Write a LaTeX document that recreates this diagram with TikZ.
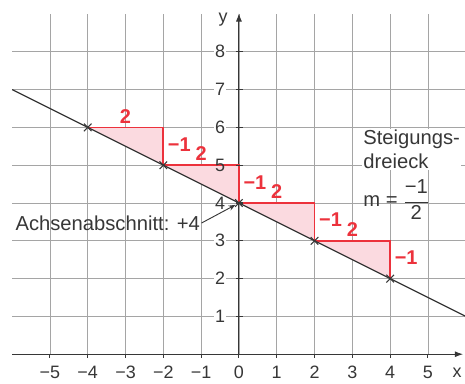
\documentclass[tikz,border=0pt]{standalone}
\usepackage{amsmath}
\usepackage{fontspec}
\setmainfont{Liberation Sans}
\usetikzlibrary{arrows.meta, positioning, calc}
\definecolor{gridgray}{RGB}{165,165,165}
\definecolor{axisgray}{RGB}{55,55,55}
\definecolor{stred}{RGB}{236,50,60}
\definecolor{stpink}{RGB}{251,218,224}

\begin{document}
\begin{tikzpicture}[
    gridline/.style={gridgray, line width=0.6pt},
    axisline/.style={axisgray, line width=0.8pt},
    steigline/.style={stred, line width=1.3pt},
    redlbl/.style={text=stred, font=\fontsize{15}{15}\selectfont\bfseries, inner sep=1pt},
    numlbl/.style={text=axisgray, font=\fontsize{13.5}{14}\selectfont, inner sep=1pt},
    txt/.style={text=axisgray, font=\fontsize{15.2}{17.5}\selectfont, align=left, inner sep=1pt}]
  \useasboundingbox (-6.32,-0.77) rectangle (5.98,9.37);
  % Grid
  \foreach \y in {1,...,8}
    \draw[gridline] (-6,\y) -- (6,\y);
  \foreach \x in {-5,...,5}
    \draw[gridline] (\x,0) -- (\x,9);
  % Points on the line y = -x/2 + 4
  \foreach \i/\x in {1/-4, 2/-2, 3/0, 4/2, 5/4}
    \coordinate (p\i) at (\x,{4-\x/2});
  % Slope triangles (fill)
  \foreach \x in {-4,-2,0,2}
    \fill[stpink] (\x,{4-\x/2}) -- (\x+2,{4-\x/2}) -- (\x+2,{3-\x/2}) -- cycle;
  % Axes
  \draw[axisline, -{Latex[length=2.2mm, width=1.6mm]}] (-6,0) -- (5.93,0);
  \draw[axisline, -{Latex[length=2.2mm, width=1.6mm]}] (0,0) -- (0,9.02);
  \node[numlbl] (xlbl) at (5.77,-0.48) {x};
  \node[numlbl] (ylbl) at (-0.42,8.84) {y};
  % Slope triangles (legs and labels)
  \foreach \x in {-4,-2,0,2}{
    \draw[steigline] (\x,{4-\x/2}) -- (\x+2,{4-\x/2}) -- (\x+2,{3-\x/2});
    \node[redlbl] at (\x+1,{4.3-\x/2}) {2};
    \node[redlbl, anchor=west] at (\x+2.08,{3.55-\x/2}) {−1};
  }
  % Tick marks
  \foreach \x/\lbl in {-5/−5, -4/−4, -3/−3, -2/−2, -1/−1, 0/0, 1/1, 2/2, 3/3, 4/4, 5/5}{
    \draw[axisline] (\x,0) -- (\x,-0.1);
    \node[numlbl, fill=white] at (\x,-0.48) {\lbl};
  }
  \foreach \y/\bg in {1/white, 2/white, 3/white, 4/none, 5/none, 6/white, 7/white, 8/white}{
    \draw[axisline] (-0.08,\y) -- (0.1,\y);
    \node[numlbl, fill=\bg] at (-0.5,\y) {\y};
  }
  % The line
  \draw[axisgray, line width=0.9pt] (-6,7) -- (6,1);
  \foreach \i in {1,...,5}
    \draw[axisgray, line width=0.8pt] ($(p\i)+(-0.1,-0.1)$) -- ($(p\i)+(0.1,0.1)$)
      ($(p\i)+(-0.1,0.1)$) -- ($(p\i)+(0.1,-0.1)$);
  % Labels
  \node[txt, anchor=west] (achse) at (-5.95,3.47) {Achsenabschnitt: +4};
  \draw[axisgray, line width=0.7pt, -{Stealth[length=1.8mm, width=1.4mm]}, shorten >=3pt]
    (achse.east) -- (p3);
  \node[txt, anchor=west, fill=white] (steig) at (3.25,5.42) {Steigungs-\\dreieck};
  \node[txt, anchor=west] (slope) at (3.25,4.08)
    {m = $\dfrac{\text{−1}}{\text{2}}$};
\end{tikzpicture}
\end{document}
